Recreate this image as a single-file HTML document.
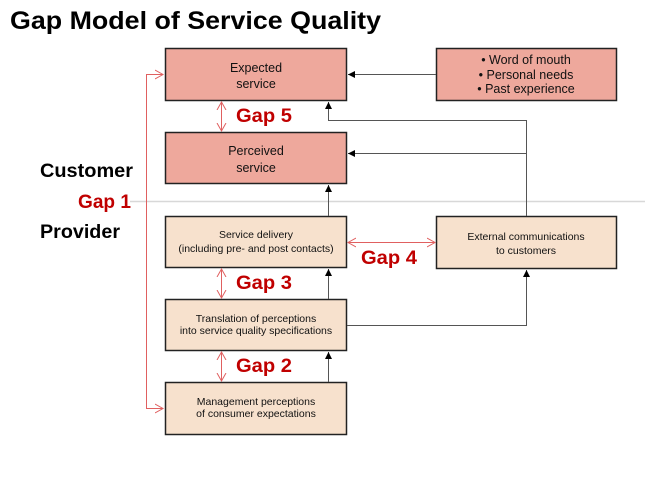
<!DOCTYPE html>
<html><head><meta charset="utf-8"><style>
html,body{margin:0;padding:0;background:#fff;}
svg{display:block;font-family:"Liberation Sans",Arial,sans-serif;}
</style></head><body>
<svg width="667" height="484" viewBox="0 0 667 484" xmlns="http://www.w3.org/2000/svg">
<defs>
<marker id="ab" markerWidth="8" markerHeight="8" refX="7" refY="4" orient="auto" markerUnits="userSpaceOnUse"><path d="M0,0.5 L7,4 L0,7.5 z" fill="#000"/></marker>
<marker id="ar" markerWidth="10" markerHeight="10" refX="8" refY="5" orient="auto-start-reverse" markerUnits="userSpaceOnUse"><path d="M0,0.5 L8,5 L0,9.5" fill="none" stroke="#e06060" stroke-width="1"/></marker>
</defs>
<text x="10" y="29" font-size="25" font-weight="bold" fill="#000" textLength="371" lengthAdjust="spacingAndGlyphs">Gap Model of Service Quality</text>
<line x1="130" y1="201.5" x2="645" y2="201.5" stroke="#d8d8d8" stroke-width="1.5"/>
<text x="40" y="177" font-size="19" font-weight="bold" textLength="93" lengthAdjust="spacingAndGlyphs">Customer</text>
<text x="40" y="238" font-size="19" font-weight="bold" textLength="80" lengthAdjust="spacingAndGlyphs">Provider</text>
<text x="78" y="208" font-size="19" font-weight="bold" fill="#c00000" textLength="53" lengthAdjust="spacingAndGlyphs">Gap 1</text>
<polyline points="163,74.5 146.5,74.5 146.5,408.5 163,408.5" fill="none" stroke="#e06060" stroke-width="1" marker-start="url(#ar)" marker-end="url(#ar)"/>
<g stroke="#222" stroke-width="1.5">
<rect x="165.5" y="48.5" width="181" height="52" fill="#eea89c"/>
<rect x="165.5" y="132.5" width="181" height="51" fill="#eea89c"/>
<rect x="436.5" y="48.5" width="180" height="52" fill="#eea89c"/>
<rect x="165.5" y="216.5" width="181" height="51" fill="#f7e1cd"/>
<rect x="436.5" y="216.5" width="180" height="52" fill="#f7e1cd"/>
<rect x="165.5" y="299.5" width="181" height="51" fill="#f7e1cd"/>
<rect x="165.5" y="382.5" width="181" height="52" fill="#f7e1cd"/>
</g>
<g font-size="12.5" text-anchor="middle" fill="#111">
<text x="256" y="72">Expected</text><text x="256" y="88">service</text>
<text x="256" y="155">Perceived</text><text x="256" y="172">service</text>
<text x="526" y="64">• Word of mouth</text><text x="526" y="79">• Personal needs</text><text x="526" y="93">• Past experience</text>
</g>
<g font-size="10.5" text-anchor="middle" fill="#111">
<text x="256" y="238">Service delivery</text><text x="256" y="252">(including pre- and post contacts)</text>
<text x="526" y="240">External communications</text><text x="526" y="254">to customers</text>
<text x="256" y="322">Translation of perceptions</text><text x="256" y="334">into service quality specifications</text>
<text x="256" y="405">Management perceptions</text><text x="256" y="417">of consumer expectations</text>
</g>
<g stroke="#555" stroke-width="1" fill="none">
<line x1="436" y1="74.5" x2="348" y2="74.5" marker-end="url(#ab)"/>
<polyline points="526.5,216 526.5,120.5 328.5,120.5 328.5,102" marker-end="url(#ab)"/>
<line x1="526.5" y1="153.5" x2="348" y2="153.5" marker-end="url(#ab)"/>
<line x1="328.5" y1="216" x2="328.5" y2="185" marker-end="url(#ab)"/>
<line x1="328.5" y1="299" x2="328.5" y2="269" marker-end="url(#ab)"/>
<line x1="328.5" y1="382" x2="328.5" y2="352" marker-end="url(#ab)"/>
<polyline points="347,325.5 526.5,325.5 526.5,270" marker-end="url(#ab)"/>
</g>
<g stroke="#e06060" stroke-width="1" fill="none">
<line x1="221.5" y1="102" x2="221.5" y2="131" marker-start="url(#ar)" marker-end="url(#ar)"/>
<line x1="221.5" y1="269" x2="221.5" y2="298" marker-start="url(#ar)" marker-end="url(#ar)"/>
<line x1="221.5" y1="352" x2="221.5" y2="381" marker-start="url(#ar)" marker-end="url(#ar)"/>
<line x1="348" y1="242.5" x2="435" y2="242.5" marker-start="url(#ar)" marker-end="url(#ar)"/>
</g>
<g font-size="19.5" font-weight="bold" fill="#c00000">
<text x="236" y="122" textLength="56" lengthAdjust="spacingAndGlyphs">Gap 5</text>
<text x="236" y="289" textLength="56" lengthAdjust="spacingAndGlyphs">Gap 3</text>
<text x="236" y="372" textLength="56" lengthAdjust="spacingAndGlyphs">Gap 2</text>
<text x="361" y="264" textLength="56" lengthAdjust="spacingAndGlyphs">Gap 4</text>
</g>
</svg>
</body></html>
